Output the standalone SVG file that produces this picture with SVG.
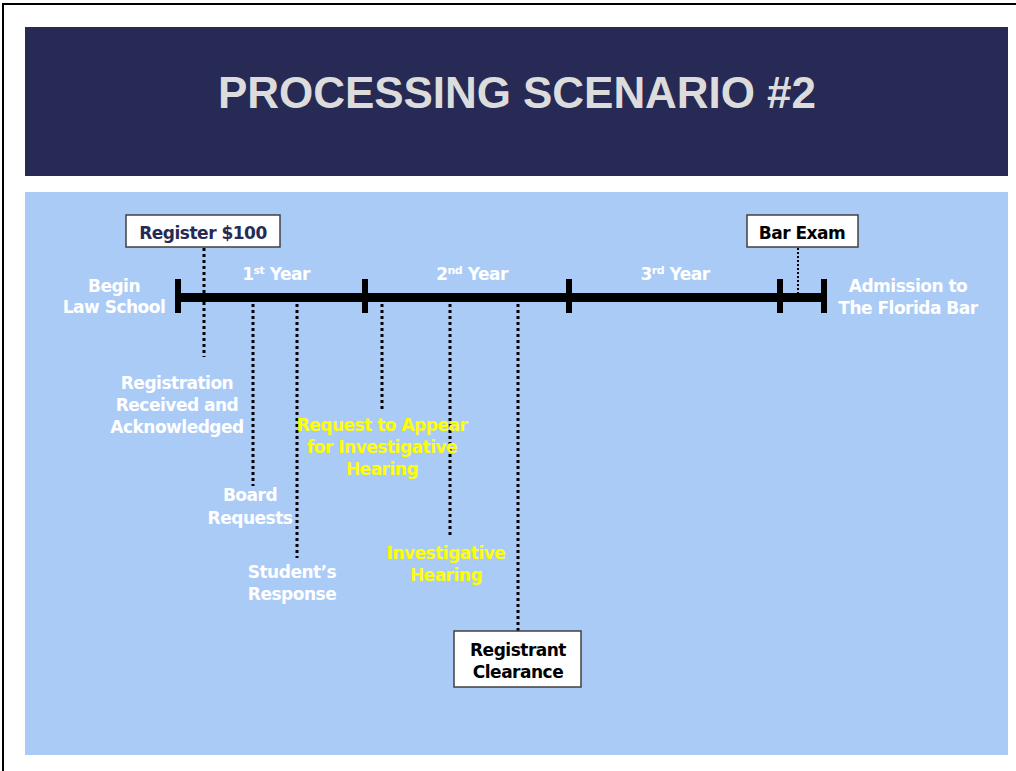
<svg xmlns="http://www.w3.org/2000/svg" width="1016" height="771" viewBox="0 0 1016 771">
<style>
.lbl{font-family:"DejaVu Sans","Verdana",sans-serif;font-weight:bold;font-size:17px;letter-spacing:-0.5px;text-anchor:middle;fill:#ffffff}
.yel{fill:#ffff00}
.blk{fill:#000000}
.navy{fill:#262a55}
.box{fill:#ffffff;stroke:#404040;stroke-width:1.5}
.dot{stroke:#000;stroke-width:3;stroke-dasharray:3 3;fill:none}
.dot2{stroke:#000;stroke-width:2;stroke-dasharray:2 2;fill:none}
.sup{font-size:11px}
</style>
<rect width="1016" height="771" fill="#ffffff"/>
<path d="M3 771 V4 H1016" fill="none" stroke="#000" stroke-width="2"/>
<g id="header">
<rect x="25" y="27" width="983" height="149" fill="#262a55"/>
<text x="218" y="108" textLength="598" lengthAdjust="spacing" font-family="Liberation Sans, Arial, sans-serif" font-weight="bold" font-size="44" fill="#dcdcdc">PROCESSING SCENARIO #2</text>
</g>
<rect id="panel" x="25" y="192" width="983" height="563" fill="#abcbf7"/>
<g id="connectors">
<line class="dot" x1="204" y1="248" x2="204" y2="357"/>
<line class="dot" x1="253" y1="304" x2="253" y2="486"/>
<line class="dot" x1="297" y1="304" x2="297" y2="558"/>
<line class="dot" x1="382" y1="304" x2="382" y2="411"/>
<line class="dot" x1="450" y1="304" x2="450" y2="536"/>
<line class="dot" x1="518" y1="304" x2="518" y2="631"/>
<line class="dot2" x1="798" y1="248" x2="798" y2="294"/>
</g>
<g id="timeline">
<rect x="176" y="293" width="650" height="9" fill="#000"/>
<rect x="175" y="279" width="6" height="34" fill="#000"/>
<rect x="362" y="279" width="6" height="34" fill="#000"/>
<rect x="566" y="279" width="6" height="34" fill="#000"/>
<rect x="777" y="279" width="6" height="34" fill="#000"/>
<rect x="821" y="279" width="6" height="34" fill="#000"/>
</g>
<g id="register">
<rect class="box" x="126" y="215" width="154" height="32"/>
<text class="lbl navy" x="203" y="239">Register $100</text>
</g>
<g id="barexam">
<rect class="box" x="747" y="215" width="111" height="32"/>
<text class="lbl blk" x="802" y="239">Bar Exam</text>
</g>
<g id="begin">
<text class="lbl" x="114" y="292">Begin</text>
<text class="lbl" x="114" y="313">Law School</text>
</g>
<g id="year1"><text class="lbl" x="276" y="280">1<tspan class="sup" dy="-6">st</tspan><tspan dy="6"> Year</tspan></text></g>
<g id="year2"><text class="lbl" x="472" y="280">2<tspan class="sup" dy="-6">nd</tspan><tspan dy="6"> Year</tspan></text></g>
<g id="year3"><text class="lbl" x="675" y="280">3<tspan class="sup" dy="-6">rd</tspan><tspan dy="6"> Year</tspan></text></g>
<g id="admission">
<text class="lbl" x="908" y="292">Admission to</text>
<text class="lbl" x="908" y="314">The Florida Bar</text>
</g>
<g id="registration">
<text class="lbl" x="177" y="389">Registration</text>
<text class="lbl" x="177" y="411">Received and</text>
<text class="lbl" x="177" y="433">Acknowledged</text>
</g>
<g id="board">
<text class="lbl" x="250" y="501">Board</text>
<text class="lbl" x="250" y="524">Requests</text>
</g>
<g id="student">
<text class="lbl" x="292" y="578">Student’s</text>
<text class="lbl" x="292" y="600">Response</text>
</g>
<g id="request">
<text class="lbl yel" x="382" y="431">Request to Appear</text>
<text class="lbl yel" x="382" y="453">for Investigative</text>
<text class="lbl yel" x="382" y="475">Hearing</text>
</g>
<g id="hearing">
<text class="lbl yel" x="446" y="559">Investigative</text>
<text class="lbl yel" x="446" y="581">Hearing</text>
</g>
<g id="clearance">
<rect class="box" x="454" y="631" width="127" height="56"/>
<text class="lbl blk" x="518" y="656">Registrant</text>
<text class="lbl blk" x="518" y="678">Clearance</text>
</g>
</svg>
